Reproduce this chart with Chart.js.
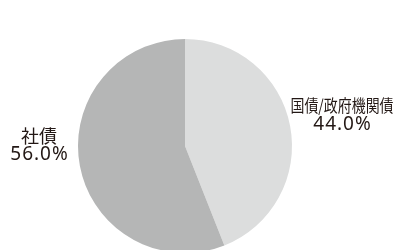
<!DOCTYPE html>
<html><head><meta charset="utf-8">
<script src="https://cdn.jsdelivr.net/npm/chart.js@4/dist/chart.umd.min.js"></script>
<style>
html,body{margin:0;padding:0;background:#fff;overflow:hidden;width:393px;height:250px}
#wrap{position:relative;width:393px;height:262px}
</style></head><body>
<div id="wrap"><canvas id="c"></canvas></div>
<script>
const categories = ['国債/政府機関債', '社債'];
const values = [44.0, 56.0];
const colors = ['#dcdddd', '#b5b6b6'];
// label centre offsets relative to pie centre, in px
const labelPos = [[157, -31], [-146, -1]];
const nameStyle = [{ size: 17, sx: 0.82 }, { size: 18, sx: 1 }];

const labelPlugin = {
  id: 'outLabels',
  afterDatasetsDraw(chart) {
    const ctx = chart.ctx;
    const meta = chart.getDatasetMeta(0);
    const total = values.reduce((a, b) => a + b, 0);
    ctx.save();
    ctx.fillStyle = '#231815';
    ctx.textAlign = 'center';
    ctx.textBaseline = 'middle';
    meta.data.forEach((arc, i) => {
      const x = arc.x + labelPos[i][0];
      const y = arc.y + labelPos[i][1];
      ctx.save();
      ctx.font = nameStyle[i].size + 'px "Noto Sans CJK JP", "Noto Sans", sans-serif';
      ctx.translate(x, y - 9);
      ctx.scale(nameStyle[i].sx, 1);
      ctx.fillText(categories[i], 0, 0);
      ctx.restore();
      ctx.font = '19px "Noto Sans", "Noto Sans CJK JP", sans-serif';
      if ('letterSpacing' in ctx) ctx.letterSpacing = '1px';
      ctx.fillText((values[i] / total * 100).toFixed(1) + '%', x + 0.5, y + 10);
      if ('letterSpacing' in ctx) ctx.letterSpacing = '0px';
    });
    ctx.restore();
  }
};

new Chart(document.getElementById('c'), {
  type: 'pie',
  data: {
    labels: categories,
    datasets: [{ data: values, backgroundColor: colors, borderWidth: 0 }]
  },
  options: {
    responsive: true,
    maintainAspectRatio: false,
    animation: false,
    layout: { padding: { top: 39, bottom: 9, left: 78, right: 101 } },
    plugins: { legend: { display: false }, tooltip: { enabled: false } }
  },
  plugins: [labelPlugin]
});
</script>
</body></html>
